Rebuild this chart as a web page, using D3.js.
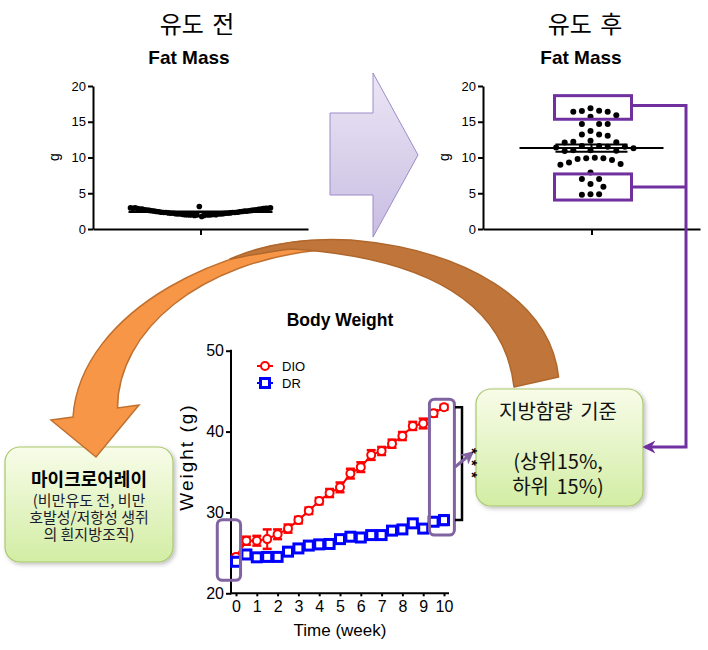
<!DOCTYPE html>
<html>
<head>
<meta charset="utf-8">
<script src="https://cdn.jsdelivr.net/npm/d3@7"></script>
<style>
  body { margin: 0; background: #fff; }
  svg { display: block; }
  text { font-family: "Liberation Sans", Arial, sans-serif; }
  .kr { font-family: "Noto Sans CJK KR", sans-serif; }
</style>
</head>
<body>
<svg id="fig" width="708" height="650"></svg>
<script>
// ---- data ----
var fatTicks = [0, 5, 10, 15, 20];
// before induction: read left to right along the band
var fatBefore = [2.95, 2.9, 2.95, 2.85, 2.8, 2.8, 2.7, 2.65, 2.6, 2.55, 2.5, 2.45, 2.4, 2.35, 2.3,
  2.3, 2.25, 2.2, 2.2, 2.15, 2.1, 2.1, 2.05, 2.0, 2.0, 1.95, 2.0, 1.9, 1.95, 3.15, 1.75, 1.9, 2.0,
  1.95, 2.0, 2.05, 2.0, 2.1, 2.1, 2.15, 2.2, 2.2, 2.25, 2.3, 2.3, 2.35, 2.4, 2.45, 2.5, 2.5, 2.55,
  2.6, 2.65, 2.7, 2.75, 2.8, 2.85, 2.9, 2.9, 2.95];
// after induction
var fatAfter = [16.55, 16.4, 15.7, 15.9, 16.4, 16.5, 16.9, 14.7, 14.7, 14.7, 13.7, 13.2, 13.2, 13.05,
  12.35, 12.15, 12.1, 12.2, 11.6, 11.5, 11.4, 11.5, 11.3, 11.6, 11.0, 10.9, 10.95, 11.0,
  9.9, 9.65, 9.8, 9.9, 9.95, 9.1, 9.3, 9.0, 7.9, 7.0, 6.3, 5.9, 7.0, 4.85, 4.8, 4.85];
var highGroup = [15.35, 18.65];
var lowGroup = [4.05, 7.7];

var weeks = [0, 0.5, 1, 1.5, 2, 2.5, 3, 3.5, 4, 4.5, 5, 5.5, 6, 6.5, 7, 7.5, 8, 8.5, 9, 9.5, 10];
var dioMean = [24.5, 26.5, 26.5, 26.7, 27.3, 28.0, 29.05, 30.2, 31.4, 32.4, 33.1, 34.8, 35.6, 37.1,
  37.6, 38.5, 39.45, 40.7, 41.0, 42.25, 43.0];
var dioSem = [0.3, 0.5, 0.6, 1.2, 0.6, 0.5, 0.4, 0.4, 0.4, 0.5, 0.6, 0.6, 0.6, 0.6, 0.5, 0.5, 0.5,
  0.5, 0.6, 0.4, 0.3];
var drMean = [23.9, 24.8, 24.45, 24.5, 24.5, 25.15, 25.55, 25.9, 26.05, 26.1, 26.7, 27.0, 26.9, 27.2,
  27.2, 27.75, 27.9, 28.65, 28.0, 28.85, 29.05];
var drSem = [0.4, 0.4, 0.4, 0.5, 0.4, 0.4, 0.4, 0.4, 0.4, 0.4, 0.3, 0.4, 0.4, 0.3, 0.3, 0.3, 0.3,
  0.4, 0.4, 0.5, 0.6];
var weightTicks = [20, 30, 40, 50];
var weekTicks = [0, 1, 2, 3, 4, 5, 6, 7, 8, 9, 10];
var seriesNames = ['DIO', 'DR'];

var svg = d3.select('#fig');
var defs = svg.append('defs');

// gradients / effects
var gg = defs.append('linearGradient').attr('id', 'greenFill')
  .attr('x1', 0).attr('y1', 0).attr('x2', 0).attr('y2', 1);
gg.append('stop').attr('offset', '0%').attr('stop-color', '#f8fce9');
gg.append('stop').attr('offset', '100%').attr('stop-color', '#d2eda4');

var pg = defs.append('linearGradient').attr('id', 'purpleFill')
  .attr('x1', 0).attr('y1', 0).attr('x2', 0).attr('y2', 1);
pg.append('stop').attr('offset', '0%').attr('stop-color', '#ebe6f5');
pg.append('stop').attr('offset', '100%').attr('stop-color', '#c9bde2');

var sh = defs.append('filter').attr('id', 'shadow')
  .attr('x', '-10%').attr('y', '-10%').attr('width', '130%').attr('height', '130%');
sh.append('feDropShadow').attr('dx', 2).attr('dy', 2).attr('stdDeviation', 2)
  .attr('flood-color', '#000').attr('flood-opacity', 0.25);

function addArrowMarker(id, color){
  defs.append('marker').attr('id', id)
    .attr('viewBox', '0 0 10 10').attr('refX', 8).attr('refY', 5)
    .attr('markerUnits', 'userSpaceOnUse')
    .attr('markerWidth', 13).attr('markerHeight', 13)
    .attr('orient', 'auto')
    .append('path').attr('d', 'M0,0 L10,5 L0,10 L3,5 z').attr('fill', color);
}
addArrowMarker('arrPurple', '#7030a0');
addArrowMarker('arrLav', '#8064a2');

// ---- big block arrow (before -> after) ----
svg.append('path')
  .attr('d', 'M330,113 H373 V73 L418,155 L373,237 V195 H330 Z')
  .attr('fill', 'url(#purpleFill)')
  .attr('stroke', '#9d8cc8').attr('stroke-width', 1);

// ---- green boxes ----
function greenBox(x, y, w, h){
  svg.append('rect')
    .attr('x', x).attr('y', y).attr('width', w).attr('height', h)
    .attr('rx', 15).attr('ry', 15)
    .attr('fill', 'url(#greenFill)')
    .attr('stroke', '#a9c86c').attr('stroke-width', 1.2)
    .attr('filter', 'url(#shadow)');
}
greenBox(5, 447, 168, 115);
greenBox(476, 389, 167, 117);

// multi-line labels, one text element each
var leftLines = ['마이크로어레이', '(비만유도 전, 비만', '호발성/저항성 생쥐', '의 흰지방조직)'];
var lt = svg.append('text').attr('class', 'kr').attr('text-anchor', 'middle');
lt.selectAll('tspan').data(leftLines).enter().append('tspan')
  .attr('x', 89)
  .attr('y', function(d, i){ return i === 0 ? 486 : 489 + i * 17; })
  .attr('font-size', function(d, i){ return i === 0 ? 18 : 15; })
  .attr('font-weight', function(d, i){ return i === 0 ? 'bold' : 'normal'; })
  .attr('fill', function(d, i){ return i === 0 ? '#000' : '#1b1b2e'; })
  .text(function(d){ return d; });

var rightLines = ['지방함량 기준', '(상위15%,', '하위 15%)'];
var rt = svg.append('text').attr('class', 'kr').attr('text-anchor', 'middle')
  .attr('font-size', 20).attr('fill', '#111').attr('word-spacing', 3);
rt.selectAll('tspan').data(rightLines).enter().append('tspan')
  .attr('x', 558)
  .attr('y', function(d, i){ return i === 0 ? 419 : 419 + (i + 1) * 25; })
  .text(function(d){ return d; });

// ---- curved arrow (after -> microarray) ----
svg.append('path')
  .attr('d', 'M351,241 C230,236 80,310 73,417 L51,420 L96,457 L139,405 L117.5,408 ' +
             'C118,330 200,262 320,250 Z')
  .attr('fill', '#f79646').attr('stroke', '#c0702f').attr('stroke-width', 1.5);
svg.append('path')
  .attr('d', 'M558.6,377 C550,300 465,250 351,240 C300,237 262,245 230,259 ' +
             'C252,255 272,251 292,249 C430,258 505,305 514,387 Z')
  .attr('fill', '#c0763a').attr('stroke', '#b0672c').attr('stroke-width', 1.5)
  .attr('stroke-linejoin', 'round');

// ---- fat mass charts ----
function styleAxis(ax, size){
  ax.select('.domain').attr('stroke', '#000').attr('stroke-width', 2);
  ax.selectAll('.tick line').attr('stroke', '#000').attr('stroke-width', 2);
  ax.selectAll('.tick text').attr('fill', '#000').attr('font-size', size)
    .attr('font-family', '"Liberation Sans", Arial, sans-serif');
}

function drawFat(cfg){
  var y = d3.scaleLinear().domain([0, 20]).range([229, 86]);
  var x = d3.scalePoint().domain(['g']).range([cfg.x0, cfg.x1]);
  var g = svg.append('g');

  g.append('text').attr('class', 'kr').attr('x', cfg.titleX).attr('y', 33)
    .attr('text-anchor', 'middle').attr('font-size', 24).attr('word-spacing', 3)
    .text(cfg.title);
  g.append('text').attr('x', cfg.subX).attr('y', 64)
    .attr('text-anchor', 'middle').attr('font-size', 19).attr('font-weight', 'bold')
    .text('Fat Mass');

  var ya = g.append('g').attr('transform', 'translate(' + cfg.x0 + ',0)')
    .call(d3.axisLeft(y).tickValues(fatTicks).tickSize(5).tickSizeOuter(0).tickPadding(2));
  styleAxis(ya, 13);
  var xa = g.append('g').attr('transform', 'translate(0,229)')
    .call(d3.axisBottom(x).tickSize(6).tickSizeOuter(0).tickFormat(''));
  styleAxis(xa, 13);

  g.append('text').attr('transform', 'translate(' + (cfg.x0 - 34) + ',157) rotate(-90)')
    .attr('text-anchor', 'middle').attr('font-size', 14).text('g');

  return { g: g, x: x, y: y };
}

function meanSem(c, vals, cx){
  var m = d3.mean(vals);
  var s = d3.deviation(vals) / Math.sqrt(vals.length);
  var y = c.y;
  var lines = [
    [cx - 72, y(m), cx + 72, y(m)],
    [cx - 36, y(m + s), cx + 36, y(m + s)],
    [cx - 36, y(m - s), cx + 36, y(m - s)],
    [cx, y(m + s), cx, y(m - s)]
  ];
  c.g.selectAll(null).data(lines).enter().append('line')
    .attr('x1', function(d){ return d[0]; }).attr('y1', function(d){ return d[1]; })
    .attr('x2', function(d){ return d[2]; }).attr('y2', function(d){ return d[3]; })
    .attr('stroke', '#000').attr('stroke-width', 2);
}

// left: before
var before = drawFat({ x0: 93, x1: 308, title: '유도 전', titleX: 197, subX: 189 });
var bx = before.x('g');
var idx = d3.scalePoint().domain(d3.range(fatBefore.length)).range([bx - 70, bx + 70]);
before.g.selectAll('circle.dot').data(fatBefore).enter().append('circle')
  .attr('class', 'dot')
  .attr('cx', function(d, i){ return idx(i); })
  .attr('cy', function(d){ return before.y(d); })
  .attr('r', 2.8).attr('fill', '#000');
meanSem(before, fatBefore, bx);

// right: after
var after = drawFat({ x0: 483, x1: 700, title: '유도 후', titleX: 585, subX: 581 });
var ax = after.x('g');

function swarm(values, y, cx, step, minDist){
  var placed = [];
  values.slice().sort(d3.descending).forEach(function(v){
    var py = y(v), px = cx;
    for (var k = 0; k < 40; k++){
      var off = (k % 2 ? 1 : -1) * Math.ceil(k / 2) * step;
      px = cx + off;
      var ok = placed.every(function(p){
        return (p.x - px) * (p.x - px) + (p.y - py) * (p.y - py) >= minDist * minDist;
      });
      if (ok) break;
    }
    placed.push({ x: px, y: py, v: v });
  });
  return placed;
}
var pts = swarm(fatAfter, after.y, ax - 1, 4.3, 8.4);
after.g.selectAll('circle.dot').data(pts).enter().append('circle')
  .attr('class', 'dot')
  .attr('cx', function(d){ return d.x; })
  .attr('cy', function(d){ return d.y; })
  .attr('r', 3).attr('fill', '#000');
meanSem(after, fatAfter, ax);

// highlighted groups (top / bottom 15%)
[highGroup, lowGroup].forEach(function(rg){
  after.g.append('rect')
    .attr('x', ax - 37).attr('width', 77)
    .attr('y', after.y(rg[1])).attr('height', after.y(rg[0]) - after.y(rg[1]))
    .attr('fill', 'none').attr('stroke', '#7030a0').attr('stroke-width', 3);
});
var rx = ax + 40, cxLine = 686;
var yHigh = (after.y(highGroup[0]) + after.y(highGroup[1])) / 2 - 2;
var yLow = (after.y(lowGroup[0]) + after.y(lowGroup[1])) / 2;
svg.append('path')
  .attr('d', 'M' + rx + ',' + yHigh + ' H' + cxLine + ' V447 H645')
  .attr('fill', 'none').attr('stroke', '#7030a0').attr('stroke-width', 3)
  .attr('marker-end', 'url(#arrPurple)');
svg.append('path')
  .attr('d', 'M' + rx + ',' + yLow + ' H' + cxLine)
  .attr('fill', 'none').attr('stroke', '#7030a0').attr('stroke-width', 3);

// ---- body weight chart ----
var bw = svg.append('g');
var x = d3.scaleLinear().domain([0, 10]).range([236, 444]);
var y = d3.scaleLinear().domain([20, 50]).range([593.3, 350.7]);
var axisX = 231;

bw.append('text').attr('x', 340).attr('y', 326).attr('text-anchor', 'middle')
  .attr('font-size', 17.5).attr('font-weight', 'bold').text('Body Weight');

var bya = bw.append('g').attr('transform', 'translate(' + axisX + ',0)')
  .call(d3.axisLeft(y).tickValues(weightTicks).tickSize(5).tickSizeOuter(0).tickPadding(2));
styleAxis(bya, 16);
bya.select('.domain').remove();
bw.append('line').attr('x1', axisX).attr('x2', axisX).attr('y1', y(50) - 1).attr('y2', y(20) + 1)
  .attr('stroke', '#000').attr('stroke-width', 2);

var bxa = bw.append('g').attr('transform', 'translate(0,' + y(20) + ')')
  .call(d3.axisBottom(x).tickValues(weekTicks).tickSize(3).tickPadding(4));
styleAxis(bxa, 16);
bxa.select('.domain').remove();
bw.append('line').attr('x1', axisX).attr('x2', x(10) + 5).attr('y1', y(20)).attr('y2', y(20))
  .attr('stroke', '#000').attr('stroke-width', 2);

bw.append('text').attr('x', 340).attr('y', 636).attr('text-anchor', 'middle')
  .attr('font-size', 17).text('Time (week)');
bw.append('text').attr('transform', 'translate(193,457) rotate(-90)')
  .attr('text-anchor', 'middle').attr('font-size', 19).attr('letter-spacing', 2)
  .text('Weight (g)');

var series = [
  { name: seriesNames[0], mean: dioMean, sem: dioSem, color: '#ff0000', shape: 'circle' },
  { name: seriesNames[1], mean: drMean, sem: drSem, color: '#0000ff', shape: 'square' }
];

function marker(sel, s){
  if (s.shape === 'circle'){
    sel.append('circle').attr('r', 4)
      .attr('fill', '#fff').attr('stroke', s.color).attr('stroke-width', 2);
  } else {
    sel.append('rect').attr('x', -4.5).attr('y', -4.5).attr('width', 9).attr('height', 9)
      .attr('fill', '#fff').attr('stroke', s.color).attr('stroke-width', 3);
  }
}

series.forEach(function(s){
  var pts = weeks.map(function(w, i){ return { w: w, m: s.mean[i], e: s.sem[i] }; });
  var sg = bw.append('g');
  sg.append('path').datum(pts)
    .attr('d', d3.line().x(function(d){ return x(d.w); }).y(function(d){ return y(d.m); }))
    .attr('fill', 'none').attr('stroke', s.color).attr('stroke-width', 2);
  var eb = sg.selectAll('g.err').data(pts).enter().append('g').attr('class', 'err');
  eb.append('line')
    .attr('x1', function(d){ return x(d.w); }).attr('x2', function(d){ return x(d.w); })
    .attr('y1', function(d){ return y(d.m - d.e); }).attr('y2', function(d){ return y(d.m + d.e); })
    .attr('stroke', s.color).attr('stroke-width', 2);
  [-1, 1].forEach(function(sign){
    eb.append('line')
      .attr('x1', function(d){ return x(d.w) - 4.5; }).attr('x2', function(d){ return x(d.w) + 4.5; })
      .attr('y1', function(d){ return y(d.m + sign * d.e); }).attr('y2', function(d){ return y(d.m + sign * d.e); })
      .attr('stroke', s.color).attr('stroke-width', 2.5);
  });
  var mk = sg.selectAll('g.mk').data(pts).enter().append('g').attr('class', 'mk')
    .attr('transform', function(d){ return 'translate(' + x(d.w) + ',' + y(d.m) + ')'; });
  marker(mk, s);
});

// legend
var lg = bw.selectAll('g.lg').data(series).enter().append('g').attr('class', 'lg')
  .attr('transform', function(d, i){ return 'translate(265,' + (366 + i * 17) + ')'; });
lg.append('line').attr('x1', -8).attr('x2', 8)
  .attr('stroke', function(d){ return d.color; }).attr('stroke-width', 2);
lg.each(function(s){ marker(d3.select(this), s); });
lg.append('text').attr('x', 17).attr('y', 5).attr('font-size', 13)
  .text(function(d){ return d.name; });

// annotation boxes on the weight chart
bw.append('rect').attr('x', x(-0.9)).attr('width', x(0.22) - x(-0.9))
  .attr('y', y(29.1)).attr('height', y(21.6) - y(29.1))
  .attr('rx', 5).attr('fill', 'none').attr('stroke', '#8064a2').attr('stroke-width', 3);
bw.append('rect').attr('x', x(9.3)).attr('width', x(10.5) - x(9.3))
  .attr('y', y(44.0)).attr('height', y(27.2) - y(44.0))
  .attr('rx', 5).attr('fill', 'none').attr('stroke', '#8064a2').attr('stroke-width', 3);

// significance bracket
var bxr = x(10) + 18;
var yTop = y(dioMean[dioMean.length - 1]), yBot = y(drMean[drMean.length - 1]);
bw.append('path')
  .attr('d', 'M' + (bxr - 7) + ',' + yTop + ' H' + bxr + ' V' + yBot + ' H' + (bxr - 7))
  .attr('fill', 'none').attr('stroke', '#000').attr('stroke-width', 2.5);
bw.append('path').attr('d', 'M455,467 L472,453')
  .attr('stroke', '#8064a2').attr('stroke-width', 3).attr('fill', 'none')
  .attr('marker-end', 'url(#arrLav)');
// stars written downwards, one text
bw.append('text').attr('transform', 'translate(467,448) rotate(90)')
  .attr('font-size', 15).attr('font-weight', 'bold').attr('letter-spacing', 6.2)
  .text('***');
</script>
</body>
</html>
